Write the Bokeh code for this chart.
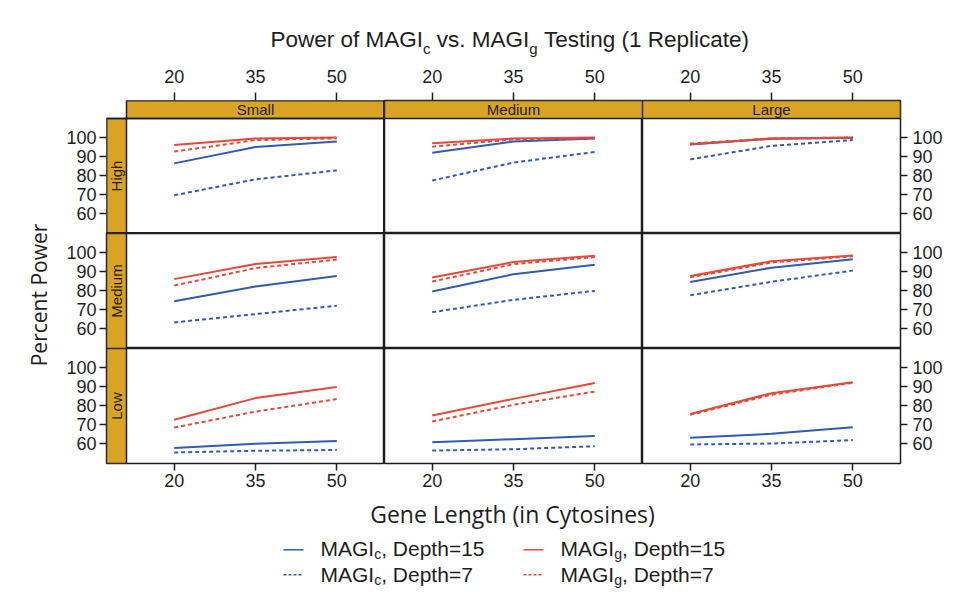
import math
from bokeh.plotting import figure
from bokeh.models import Range1d, LinearAxis, FixedTicker, ColumnDataSource
from bokeh.layouts import gridplot, column, row
from bokeh.core.properties import value
from bokeh.embed import file_html
from bokeh.resources import INLINE

# ---------------- data ----------------
gene_length = [20, 35, 50]
effect_sizes = ["Small", "Medium", "Large"]      # panel columns
coverages = ["High", "Medium", "Low"]             # panel rows
x_ticks = [20, 35, 50]
y_ticks = [60, 70, 80, 90, 100]

# each list: [Small, Medium, Large] panels, values at gene_length 20/35/50
magic_c_d15_high = [[86.4, 95.0, 97.9], [92.0, 97.9, 99.5], [96.3, 99.3, 99.8]]
magic_c_d7_high = [[69.6, 78.0, 82.7], [77.4, 86.8, 92.4], [88.5, 95.6, 98.7]]
magic_g_d15_high = [[96.1, 99.5, 100.0], [97.0, 99.5, 100.0], [96.5, 99.5, 100.0]]
magic_g_d7_high = [[92.6, 98.6, 99.6], [95.2, 99.0, 99.6], [96.8, 99.5, 100.0]]

magic_c_d15_medium = [[74.4, 82.1, 87.7], [79.5, 88.6, 93.5], [84.5, 92.0, 96.5]]
magic_c_d7_medium = [[63.2, 67.6, 72.0], [68.6, 75.1, 79.8], [77.5, 84.6, 90.5]]
magic_g_d15_medium = [[86.0, 94.0, 97.6], [86.9, 95.0, 98.3], [87.6, 95.4, 98.4]]
magic_g_d7_medium = [[82.6, 91.8, 96.3], [84.7, 93.9, 97.6], [87.0, 94.8, 98.0]]

magic_c_d15_low = [[57.6, 59.9, 61.4], [60.7, 62.3, 64.0], [63.0, 65.1, 68.6]]
magic_c_d7_low = [[55.3, 56.2, 56.6], [56.3, 57.0, 58.6], [59.5, 60.0, 61.8]]
magic_g_d15_low = [[72.5, 83.9, 89.7], [74.7, 83.5, 91.8], [75.5, 86.5, 92.2]]
magic_g_d7_low = [[68.4, 76.8, 83.4], [71.6, 80.4, 87.3], [75.1, 85.7, 91.9]]

series_by_row = {
    "High": [magic_c_d7_high, magic_c_d15_high, magic_g_d7_high, magic_g_d15_high],
    "Medium": [magic_c_d7_medium, magic_c_d15_medium, magic_g_d7_medium, magic_g_d15_medium],
    "Low": [magic_c_d7_low, magic_c_d15_low, magic_g_d7_low, magic_g_d15_low],
}

# ---------------- styles ----------------
BLUE = "#2F5CB6"
RED = "#E5493A"
GOLD = "#D9A424"
INK = "#1e1e1e"
series_styles = [(BLUE, "4 3"), (BLUE, "solid"), (RED, "4 3"), (RED, "solid")]

legend_entries = [
    ("c", ", Depth=15", BLUE, "solid"),
    ("c", ", Depth=7", BLUE, "3 2"),
    ("g", ", Depth=15", RED, "solid"),
    ("g", ", Depth=7", RED, "3 2"),
]

PANEL_W, PANEL_H = 258, 115
STRIP_TOP, STRIP_LEFT = 18, 20
YLAB_W = 62
LEFT_B, RIGHT_B, TOP_B, BOTTOM_B = 44, 50, 40, 32
X0, X1 = 11.2, 58.8
Y0, Y1 = 49.5, 110.0
xu = (X1 - X0) / PANEL_W
yu = (Y1 - Y0) / PANEL_H
strip_lu = STRIP_LEFT * xu
strip_tu = STRIP_TOP * yu
TOTAL_W = YLAB_W + LEFT_B + STRIP_LEFT + 3 * PANEL_W + RIGHT_B
GRID_H = TOP_B + STRIP_TOP + 3 * PANEL_H + BOTTOM_B

TICK_FONT = "Liberation Sans"
LABEL_FONT = "Open Sans"


def style_axis(ax):
    ax.axis_line_color = None
    ax.major_tick_line_color = INK
    ax.major_tick_line_width = 1.5
    ax.major_tick_in = 0
    ax.major_tick_out = 7
    ax.minor_tick_line_color = None
    ax.major_label_text_font = TICK_FONT
    ax.major_label_text_font_size = "18px"
    ax.major_label_text_color = INK
    ax.major_label_standoff = 3


grid_rows = []
for r, cov in enumerate(coverages):
    prow = []
    for c, eff in enumerate(effect_sizes):
        fw = PANEL_W + (STRIP_LEFT if c == 0 else 0)
        fh = PANEL_H + (STRIP_TOP if r == 0 else 0)
        xs = X0 - (strip_lu if c == 0 else 0)
        ye = Y1 + (strip_tu if r == 0 else 0)
        bl = LEFT_B if c == 0 else 0
        br = RIGHT_B if c == 2 else 0
        bt = TOP_B if r == 0 else 0
        bb = BOTTOM_B if r == 2 else 0
        p = figure(width=fw + bl + br, height=fh + bt + bb,
                   x_range=Range1d(xs, X1), y_range=Range1d(Y0, ye),
                   x_axis_location=None, y_axis_location=None,
                   toolbar_location=None, output_backend="svg",
                   min_border_left=bl, min_border_right=br,
                   min_border_top=bt, min_border_bottom=bb)
        p.background_fill_color = "white"
        p.border_fill_color = "white"
        p.grid.visible = False
        corner = (r == 0 and c == 0)
        if corner:
            p.outline_line_color = None
        else:
            p.outline_line_color = INK
            p.outline_line_width = 1.5

        # strips
        if r == 0:
            p.quad(left=[X0], right=[X1], bottom=[Y1], top=[ye],
                   fill_color=GOLD, line_color=INK, line_width=1.5)
            p.text(x=[(X0 + X1) / 2], y=[(Y1 + ye) / 2], text=[eff],
                   text_font=value(TICK_FONT), text_font_size=value("15px"),
                   text_align="center", text_baseline="middle", text_color=INK)
        if c == 0:
            p.quad(left=[xs], right=[X0], bottom=[Y0], top=[Y1],
                   fill_color=GOLD, line_color=INK, line_width=1.5)
            p.text(x=[(xs + X0) / 2], y=[(Y0 + Y1) / 2], text=[cov], angle=math.pi / 2,
                   text_font=value(TICK_FONT), text_font_size=value("15px"),
                   text_align="center", text_baseline="middle", text_color=INK)
        if corner:
            # right and bottom edges sit on the canvas edge (half cut) -> double width
            p.multi_line(xs=[[xs, X1, X1]], ys=[[Y0, Y0, ye]],
                         line_color=INK, line_width=3)
            p.multi_line(xs=[[X0, X1], [xs, xs], [xs, X1]], ys=[[ye, ye], [Y0, Y1], [Y1, Y1]],
                         line_color=INK, line_width=1.5)

        # data
        for data, (col, dash) in zip(series_by_row[cov], series_styles):
            p.line(gene_length, data[c], line_color=col, line_width=2, line_dash=dash)

        # axes
        if r == 0:
            ax = LinearAxis(ticker=FixedTicker(ticks=x_ticks, minor_ticks=[]))
            style_axis(ax)
            ax.major_tick_out = 8
            ax.major_label_standoff = 10
            p.add_layout(ax, "above")
        if r == 2:
            ax = LinearAxis(ticker=FixedTicker(ticks=x_ticks, minor_ticks=[]))
            style_axis(ax)
            p.add_layout(ax, "below")
        if c == 0:
            ay = LinearAxis(ticker=FixedTicker(ticks=y_ticks, minor_ticks=[]))
            style_axis(ay)
            p.add_layout(ay, "left")
        if c == 2:
            ay = LinearAxis(ticker=FixedTicker(ticks=y_ticks, minor_ticks=[]))
            style_axis(ay)
            ay.major_label_standoff = 5
            p.add_layout(ay, "right")
        prow.append(p)
    grid_rows.append(prow)

grid = gridplot(grid_rows, toolbar_location=None)

# --------------- text with subscripts (Arial/Liberation Sans metrics) ---------------
ARIAL = {' ': 278, '(': 333, ')': 333, ',': 278, '.': 278, '1': 556, '5': 556, '7': 556,
         '=': 584, 'A': 667, 'D': 722, 'G': 778, 'I': 278, 'M': 833, 'P': 667, 'R': 722,
         'T': 611, 'a': 556, 'c': 500, 'e': 556, 'f': 278, 'g': 556, 'h': 556, 'i': 222,
         'l': 222, 'n': 556, 'o': 556, 'p': 556, 'r': 333, 's': 500, 't': 278, 'v': 500,
         'w': 722}


def text_width(s, size):
    return sum(ARIAL.get(ch, 556) for ch in s) * size / 1000.0


def layout_pieces(pieces, x_start, center_y):
    xs_, ys_, ts_, ss_ = [], [], [], []
    x = x_start
    for txt, size, shift in pieces:
        lead = len(txt) - len(txt.lstrip(" "))
        x += text_width(" " * lead, size)
        body = txt.lstrip(" ")
        xs_.append(x)
        ys_.append(center_y + shift)
        ts_.append(body)
        ss_.append("%.1fpx" % size)
        x += text_width(body, size)
    return xs_, ys_, ts_, ss_


def blank_fig(w, h):
    f = figure(width=w, height=h, x_range=Range1d(0, w), y_range=Range1d(h, 0),
               x_axis_location=None, y_axis_location=None, toolbar_location=None,
               output_backend="svg", min_border=0)
    f.outline_line_color = None
    f.grid.visible = False
    f.background_fill_color = "white"
    f.border_fill_color = "white"
    return f


# title
TITLE_H = 60
tf = blank_fig(TOTAL_W, TITLE_H)
MAIN, SUB = 22.5, 15
title_pieces = [("Power of MAGI", MAIN, 0), ("c", SUB, 8.5), (" vs. MAGI", MAIN, 0),
                ("g", SUB, 8.5), (" Testing (1 Replicate)", MAIN, 0)]
total = sum(text_width(t, s) for t, s, _ in title_pieces)
tx, ty, tt, ts = layout_pieces(title_pieces, 510.5 - total / 2, 39.0)
tf.text(x="x", y="y", text="t", text_font_size="s",
        source=ColumnDataSource(dict(x=tx, y=ty, t=tt, s=ts)),
        text_font=value(TICK_FONT), text_baseline="middle", text_align="left",
        text_color=INK)

# y axis title
yf = blank_fig(YLAB_W, GRID_H)
yf.text(x=[38], y=[TOP_B + STRIP_TOP + 1.5 * PANEL_H + 4], text=["Percent Power"],
        angle=math.pi / 2, text_font=value(LABEL_FONT), text_font_size=value("21px"),
        text_align="center", text_baseline="middle", text_color=INK)

# x axis title + legend
LEG_H = 98
lf = blank_fig(TOTAL_W, LEG_H)
lf.text(x=[512], y=[18], text=["Gene Length (in Cytosines)"],
        text_font=value(LABEL_FONT), text_font_size=value("23px"),
        text_align="center", text_baseline="middle", text_color=INK)
col_sample_x = [283, 523]
col_text_x = [320, 560]
row_sample_y = [54.3, 79.3]
row_text_y = [53.2, 79.2]
lx, ly, lt, ls = [], [], [], []
for i, (sub, rest, colr, dash) in enumerate(legend_entries):
    ci, ri = i // 2, i % 2
    sx = col_sample_x[ci]
    lf.line([sx, sx + 20], [row_sample_y[ri]] * 2, line_color=colr, line_width=1.5,
            line_dash=dash)
    a, b, cc, d = layout_pieces([("MAGI", 21, 0), (sub, 14, 5.5), (rest, 21, 0)],
                                col_text_x[ci], row_text_y[ri])
    lx += a; ly += b; lt += cc; ls += d
lf.text(x="x", y="y", text="t", text_font_size="s",
        source=ColumnDataSource(dict(x=lx, y=ly, t=lt, s=ls)),
        text_font=value(TICK_FONT), text_baseline="middle", text_align="left",
        text_color=INK)

layout = column(tf, row(yf, grid, spacing=0), lf, spacing=0)
open("out.html", "w").write(file_html(layout, INLINE))
